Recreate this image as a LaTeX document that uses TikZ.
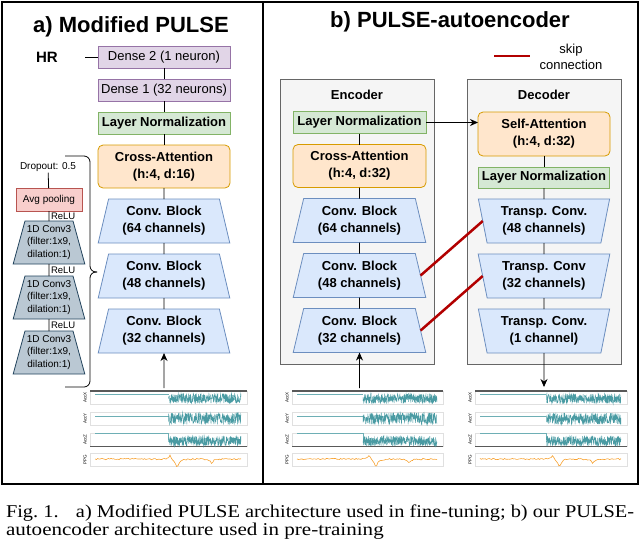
\documentclass[tikz,border=0pt]{standalone}
\usepackage{fontspec}
\setmainfont{Liberation Serif}
\setsansfont{Liberation Sans}
\newfontfamily\capfont[FakeStretch=1.17]{Liberation Serif}
\usepackage{xcolor}
\usepackage{graphicx}
\usetikzlibrary{shapes,arrows,positioning,calc,arrows.meta}

\definecolor{purplefill}{HTML}{E1D5E7}
\definecolor{purpleline}{HTML}{9673A6}
\definecolor{greenfill}{HTML}{D5E8D4}
\definecolor{greenline}{HTML}{82B366}
\definecolor{orangefill}{HTML}{FFE6CC}
\definecolor{orangeline}{HTML}{D79B00}
\definecolor{bluefill}{HTML}{DAE8FC}
\definecolor{blueline}{HTML}{6C8EBF}
\definecolor{redfill}{HTML}{F8CECC}
\definecolor{redline}{HTML}{B85450}
\definecolor{slatefill}{HTML}{BAC8D3}
\definecolor{slateline}{HTML}{23445D}
\definecolor{groupfill}{HTML}{F5F5F5}
\definecolor{groupline}{HTML}{666666}
\definecolor{skipred}{HTML}{B20000}
\definecolor{sigteal}{HTML}{4A9BA3}
\definecolor{sigorange}{HTML}{F7A12F}

\begin{document}
\begin{tikzpicture}[x=1pt, y=-1pt, node distance=11pt, outer sep=0pt,
    font=\sffamily\fontsize{13}{15.5}\selectfont,
    box/.style={draw, rectangle, line width=0.8pt, minimum height=22pt, inner sep=1pt},
    dense/.style={box, fill=purplefill, draw=purpleline, minimum width=132pt},
    norm/.style={box, fill=greenfill, draw=greenline, minimum width=132pt,
        font=\sffamily\bfseries\fontsize{13}{15.5}\selectfont},
    attn/.style={box, rounded corners=5pt, fill=orangefill, draw=orangeline, minimum width=132pt,
        minimum height=43pt, align=center, font=\sffamily\bfseries\fontsize{13}{17}\selectfont},
    conv/.style={trapezium, trapezium angle=75, trapezium stretches=true, draw=blueline, fill=bluefill,
        line width=0.8pt, minimum width=132pt, minimum height=44pt, inner sep=0pt, align=center,
        font=\sffamily\bfseries\fontsize{13}{17}\selectfont},
    tconv/.style={conv, trapezium angle=103},
    conv3/.style={trapezium, trapezium angle=72, trapezium stretches=true, draw=slateline, fill=slatefill,
        line width=0.8pt, minimum width=72pt, minimum height=43pt, inner sep=0pt, align=center,
        font=\sffamily\fontsize{10}{12.3}\selectfont},
    pool/.style={box, fill=redfill, draw=redline, minimum width=66pt, minimum height=23pt,
        font=\sffamily\fontsize{10}{12}\selectfont},
    small/.style={font=\sffamily\fontsize{10}{12}\selectfont, inner sep=1pt},
    relu/.style={font=\sffamily\fontsize{9.5}{11}\selectfont, inner sep=2pt},
    group/.style={draw=groupline, fill=groupfill, line width=0.8pt, minimum width=154pt, minimum height=285pt},
    title/.style={font=\sffamily\bfseries\fontsize{22}{24}\selectfont},
    link/.style={line width=0.8pt},
    arrow/.style={line width=0.8pt, -{Stealth[length=8pt, width=7pt]}},
    skipline/.style={skipred, line width=2.5pt},
    plotframe/.style={draw=black!12, line width=0.4pt},
    siglabel/.style={rotate=90, font=\sffamily\fontsize{4.5}{5}\selectfont, inner sep=0pt}]
    \useasboundingbox (0,0) rectangle (640,550);

    % panels
    \draw[line width=2.2pt] (2,2) rectangle (263,484);
    \draw[line width=2.2pt] (263,2) rectangle (638,484);
    \node[title, anchor=base] (titleA) at (131,32) {a) Modified PULSE};
    \node[title, anchor=base] (titleB) at (450,27) {b) PULSE-autoencoder};

    % a) modified PULSE
    \node[dense] (dense2) at (164,57) {Dense 2 (1 neuron)};
    \node[dense, below=of dense2] (dense1) {Dense 1 (32 neurons)};
    \node[norm, below=of dense1] (normA) {Layer Normalization};
    \node[attn, below=of normA] (attA) {Cross-Attention\\(h:4, d:16)};
    \node[conv, below=of attA] (convA1) {Conv. Block\\(64 channels)};
    \node[conv, below=of convA1] (convA2) {Conv. Block\\(48 channels)};
    \node[conv, below=of convA2] (convA3) {Conv. Block\\(32 channels)};

    \node[font=\sffamily\bfseries\fontsize{15}{18}\selectfont] (hr) at (47,57) {HR};
    \coordinate (hrend) at (85,57);
    \coordinate (inA) at (164,388);
    \draw[link] (hrend) -- (dense2);
    \draw[link] (dense2) -- (dense1);
    \draw[link] (dense1) -- (normA);
    \draw[link] (normA) -- (attA);
    \draw[link] (attA) -- (convA1);
    \draw[link] (convA1) -- (convA2);
    \draw[link] (convA2) -- (convA3);
    \draw[arrow] (inA) -- (convA3);

    % inside a conv block
    \node[small] (drop) at (48,167) {Dropout: 0.5};
    \node[pool] (avg) at (49,199.5) {Avg pooling};
    \node[conv3, below=10pt of avg] (c1) {1D Conv3\\(filter:1x9,\\dilation:1)};
    \node[conv3, below=12pt of c1] (c2) {1D Conv3\\(filter:1x9,\\dilation:1)};
    \node[conv3, below=12pt of c2] (c3) {1D Conv3\\(filter:1x9,\\dilation:1)};
    \draw[link] (drop) -- (avg);
    \draw[link] (avg) -- node[relu, right] {ReLU} (c1);
    \draw[link] (c1) -- node[relu, right] {ReLU} (c2);
    \draw[link] (c2) -- node[relu, right] {ReLU} (c3);
    \draw[link, rounded corners=6pt] (65,156) -- (90,156) -- (90,272) -- (97,272);
    \draw[link, rounded corners=6pt] (65,387) -- (90,387) -- (90,272) -- (97,272);

    % b) encoder
    \node[group] (enc) at (357,221.5) {};
    \node[font=\sffamily\bfseries\fontsize{13}{15}\selectfont] (encLabel) at (357,95) {Encoder};
    \node[norm, minimum width=133pt] (normE) at (359.5,122.5) {Layer Normalization};
    \node[attn, minimum width=133pt, below=of normE] (attE) {Cross-Attention\\(h:4, d:32)};
    \node[conv, minimum width=133pt, below=of attE] (convE1) {Conv. Block\\(64 channels)};
    \node[conv, minimum width=133pt, below=of convE1] (convE2) {Conv. Block\\(48 channels)};
    \node[conv, minimum width=133pt, below=of convE2] (convE3) {Conv. Block\\(32 channels)};
    \coordinate (inE) at (359.5,388);
    \draw[link] (normE) -- (attE);
    \draw[link] (attE) -- (convE1);
    \draw[link] (convE1) -- (convE2);
    \draw[link] (convE2) -- (convE3);
    \draw[arrow] (inE) -- (convE3);

    % b) decoder
    \node[group] (dec) at (544,221.5) {};
    \node[font=\sffamily\bfseries\fontsize{13}{15}\selectfont] (decLabel) at (544,95) {Decoder};
    \node[attn, minimum height=44pt] (attD) at (544,134) {Self-Attention\\(h:4, d:32)};
    \node[norm, minimum width=131pt, minimum height=21pt, below=of attD] (normD) {Layer Normalization};
    \node[tconv, below=of normD] (tconvD1) {Transp. Conv.\\(48 channels)};
    \node[tconv, below=of tconvD1] (tconvD2) {Transp. Conv\\(32 channels)};
    \node[tconv, below=of tconvD2] (tconvD3) {Transp. Conv.\\(1 channel)};
    \coordinate (outD) at (544,387);
    \draw[link] (attD) -- (normD);
    \draw[link] (normD) -- (tconvD1);
    \draw[link] (tconvD1) -- (tconvD2);
    \draw[link] (tconvD2) -- (tconvD3);
    \draw[arrow] (tconvD3) -- (outD);
    \draw[arrow] (normE.east) -- (normE.east -| attD.west);

    % skip connections
    \draw[skipline] (convE2.east) -- (tconvD1.west);
    \draw[skipline] (convE3.east) -- (tconvD2.west);
    \coordinate (skipA) at (494,56);
    \coordinate (skipB) at (530,56);
    \draw[skipline] (skipA) -- (skipB);
    \node[align=center, font=\sffamily\fontsize{13}{16}\selectfont] (skipText) at (571,57) {skip\\connection};

    % signal plots
    \pgfmathsetseed{11}
    \foreach \px/\pw/\cut in {90/157/0.50, 292/151/0.47, 475/152/0.47} {
        \pgfmathsetmacro\xs{\px+5}
        \pgfmathsetmacro\xc{\px+\cut*\pw}
        \pgfmathsetmacro\xe{\px+\pw-6}
        \pgfmathsetmacro\xa{\px+0.51*\pw}
        \pgfmathsetmacro\xb{\px+0.555*\pw}
        \pgfmathsetmacro\xd{\px+0.775*\pw}
        \foreach \ry in {391,412,433,453}
            \draw[plotframe] (\px,\ry) rectangle ++(\pw,13);
        \draw[black!65, line width=1.2pt] (\px,391) -- ++(\pw,0);
        \draw[black!65, line width=0.8pt] (\px,446) -- ++(\pw,0);
        \node[siglabel] at (\px-5,397.5) {AccX};
        \node[siglabel] at (\px-5,418.5) {AccY};
        \node[siglabel] at (\px-5,439.5) {AccZ};
        \node[siglabel] at (\px-5,459.5) {PPG};
        % accelerometer
        \draw[sigteal!80, line width=0.8pt] (\xs,394) -- (\xc,394);
        \draw[sigteal, line width=0.45pt] plot[domain=\xc:\xe, samples=320] (\x,{398.5+5*rand});
        \draw[sigteal!80, line width=0.8pt] (\xs,416) -- (\xc,416);
        \draw[sigteal, line width=0.45pt] plot[domain=\xc:\xe, samples=320] (\x,{418.5+6*rand});
        \draw[sigteal!80, line width=0.8pt] (\xs,433.5) -- (\xc,433.5) -- (\xc,440);
        \draw[sigteal, line width=0.45pt] plot[domain=\xc:\xe, samples=320] (\x,{441+5*rand});
        % ppg
        \draw[sigorange, line width=0.6pt] plot[domain=\xs:\xe, samples=110]
            (\x,{459+0.7*rand-4/(1+((\x-\xa)/1.5)^2)+8/(1+((\x-\xb)/2)^2)+4/(1+((\x-\xd)/1.8)^2)});
    }

    % caption
    \node[anchor=north west, align=left, inner sep=0pt,
        font=\capfont\fontsize{18}{18}\selectfont] (caption) at (6,505)
        {\resizebox{628pt}{\height}{Fig.~1.\quad a) Modified PULSE architecture used in fine-tuning; b) our PULSE-}\\
         autoencoder architecture used in pre-training};
\end{tikzpicture}
\end{document}
